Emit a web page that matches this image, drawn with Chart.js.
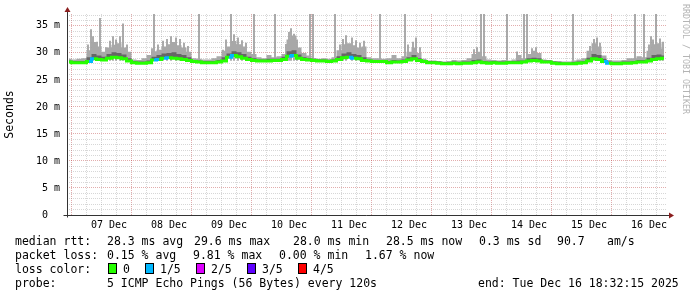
<!DOCTYPE html>
<html>
<head>
<meta charset="utf-8">
<script src="https://cdn.jsdelivr.net/npm/chart.js@4.4.1/dist/chart.umd.min.js"></script>
<style>
  html, body { margin: 0; padding: 0; background: #fff; }
  #wrap { position: relative; width: 697px; height: 297px; overflow: hidden; font-family: 'DejaVu Sans Mono', monospace; }
  #wrap canvas { position: absolute; left: 0; top: 0; }
  .t { position: absolute; font-size: 11.5px; line-height: 14px; white-space: pre; color: #000; }
  .box { position: absolute; top: 263px; width: 7px; height: 9px; border: 1px solid #000; }
  #mark { position: absolute; left: 681px; top: 4px; writing-mode: vertical-rl; font-size: 8.3px; color: #b4b4b4; white-space: pre; }
</style>
</head>
<body>
<div id="wrap">
  <canvas id="c" width="697" height="297"></canvas>

  <div class="t" style="left:15px;top:234px">median rtt:</div>
  <div class="t" style="left:107px;top:234px">28.3 ms avg</div>
  <div class="t" style="left:194px;top:234px">29.6 ms max</div>
  <div class="t" style="left:293px;top:234px">28.0 ms min</div>
  <div class="t" style="left:386px;top:234px">28.5 ms now</div>
  <div class="t" style="left:479px;top:234px">0.3 ms sd</div>
  <div class="t" style="left:557px;top:234px">90.7</div>
  <div class="t" style="left:607px;top:234px">am/s</div>

  <div class="t" style="left:15px;top:248px">packet loss:</div>
  <div class="t" style="left:107px;top:248px">0.15 % avg</div>
  <div class="t" style="left:193px;top:248px">9.81 % max</div>
  <div class="t" style="left:279px;top:248px">0.00 % min</div>
  <div class="t" style="left:365px;top:248px">1.67 % now</div>

  <div class="t" style="left:15px;top:262px">loss color:</div>
  <div class="box" style="left:108px;background:#26ff00"></div>
  <div class="t" style="left:123px;top:262px">0</div>
  <div class="box" style="left:145px;background:#00b8ff"></div>
  <div class="t" style="left:160px;top:262px">1/5</div>
  <div class="box" style="left:196px;background:#dd00ff"></div>
  <div class="t" style="left:211px;top:262px">2/5</div>
  <div class="box" style="left:247px;background:#5e00ff"></div>
  <div class="t" style="left:262px;top:262px">3/5</div>
  <div class="box" style="left:298px;background:#ff0000"></div>
  <div class="t" style="left:313px;top:262px">4/5</div>

  <div class="t" style="left:15px;top:276px">probe:</div>
  <div class="t" style="left:107px;top:276px">5 ICMP Echo Pings (56 Bytes) every 120s</div>
  <div class="t" style="left:478px;top:276px">end: Tue Dec 16 18:32:15 2025</div>

  <div id="mark">RRDTOOL / TOBI OETIKER</div>
</div>

<script>
// time axis in hours since 06 Dec 00:00, one bin every 2 hours
const binStart = 20;
const binStep = 2;
const hourMin = 19.2;
const hourMax = 258.8;

// median rtt per bin (ms)
const medianRtt = [
  28.3, 28.2, 28.2, 28.2, 28.4, 28.9, 28.8, 28.7, 29.0, 29.2,
  29.1, 28.9, 28.5, 28.2, 28.1, 28.1, 28.2, 28.7, 28.8, 29.0,
  29.1, 29.0, 28.9, 28.8, 28.6, 28.4, 28.3, 28.2, 28.2, 28.2,
  28.3, 28.5, 29.2, 29.5, 29.3, 29.0, 28.8, 28.6, 28.5, 28.5,
  28.5, 28.6, 28.6, 28.8, 29.4, 29.5, 29.0, 28.8, 28.7, 28.6,
  28.5, 28.5, 28.4, 28.5, 28.8, 29.1, 29.2, 29.0, 28.9, 28.6,
  28.5, 28.4, 28.4, 28.4, 28.2, 28.3, 28.3, 28.4, 28.7, 28.9,
  28.6, 28.4, 28.2, 28.2, 28.1, 28.0, 28.0, 28.1, 28.0, 28.1,
  28.1, 28.2, 28.3, 28.2, 28.1, 28.2, 28.1, 28.1, 28.2, 28.2,
  28.2, 28.3, 28.5, 28.6, 28.5, 28.3, 28.3, 28.1, 28.0, 28.0,
  28.0, 28.0, 28.1, 28.2, 28.5, 28.9, 28.8, 28.4, 28.1, 28.0,
  28.0, 28.1, 28.1, 28.2, 28.3, 28.3, 28.5, 28.8, 28.9, 29.0
];

// darker inner smoke, upper edge (ms)
const smokeInner = [
  28.6, 28.5, 28.5, 28.5, 29.2, 29.8, 29.5, 29.3, 29.8, 30.1,
  30.0, 29.7, 29.0, 28.5, 28.4, 28.4, 28.6, 29.3, 29.6, 29.9,
  30.0, 30.1, 29.8, 29.6, 29.2, 28.7, 28.6, 28.5, 28.5, 28.5,
  28.7, 29.2, 29.9, 30.3, 30.1, 29.8, 29.3, 29.0, 28.8, 28.8,
  28.9, 28.9, 28.9, 29.3, 30.3, 30.5, 29.7, 29.2, 29.0, 28.9,
  28.8, 28.8, 28.7, 28.8, 29.4, 29.9, 30.1, 29.8, 29.6, 29.2,
  28.8, 28.7, 28.7, 28.7, 28.5, 28.7, 28.6, 28.8, 29.2, 29.6,
  29.0, 28.7, 28.5, 28.5, 28.4, 28.3, 28.3, 28.4, 28.3, 28.4,
  28.4, 28.7, 28.8, 28.5, 28.4, 28.5, 28.4, 28.4, 28.5, 28.5,
  28.6, 28.6, 29.0, 29.1, 29.0, 28.6, 28.6, 28.4, 28.3, 28.2,
  28.2, 28.3, 28.4, 28.5, 29.1, 29.8, 29.6, 28.9, 28.4, 28.3,
  28.3, 28.4, 28.4, 28.5, 28.7, 28.7, 29.1, 29.6, 29.7, 29.5
];

// outer smoke, upper edge (ms)
const smokeTop = [
  28.9, 28.8, 28.9, 29.0, 30.5, 32.0, 31.2, 30.2, 31.0, 31.5,
  31.8, 31.0, 30.2, 28.8, 28.7, 29.0, 29.6, 30.3, 30.6, 31.2,
  31.6, 32.0, 31.4, 31.0, 30.2, 29.0, 28.9, 28.8, 28.8, 29.0,
  29.4, 30.4, 31.2, 32.2, 31.6, 31.2, 30.2, 29.8, 29.2, 29.0,
  29.6, 29.2, 29.4, 29.8, 32.5, 33.2, 31.0, 30.0, 29.5, 29.0,
  28.9, 29.0, 28.9, 29.2, 30.5, 31.6, 31.8, 31.4, 31.0, 31.2,
  29.2, 29.0, 29.0, 28.9, 29.0, 29.6, 29.0, 29.4, 30.2, 31.0,
  30.0, 28.9, 28.6, 28.6, 28.5, 28.4, 28.5, 28.7, 28.6, 28.7,
  29.0, 29.8, 30.2, 29.4, 28.8, 28.7, 28.6, 28.7, 28.6, 28.8,
  29.6, 29.0, 29.8, 30.4, 30.0, 28.8, 28.7, 28.5, 28.5, 28.4,
  28.4, 28.6, 28.8, 29.0, 30.4, 31.8, 31.2, 29.5, 28.7, 28.6,
  28.6, 28.7, 29.0, 29.0, 29.4, 29.2, 30.4, 31.6, 31.8, 30.8
];

// lost pings per bin (out of 5)
const lossBins = [
  0, 0, 0, 0, 1, 0, 0, 0, 0, 0,
  0, 0, 0, 0, 0, 0, 0, 1, 0, 1,
  0, 0, 0, 0, 0, 0, 0, 0, 0, 0,
  0, 0, 1, 0, 0, 0, 0, 0, 0, 0,
  0, 0, 0, 0, 1, 0, 0, 0, 0, 0,
  0, 0, 0, 0, 0, 0, 1, 0, 0, 0,
  0, 0, 0, 0, 0, 0, 0, 0, 0, 0,
  0, 0, 0, 0, 0, 0, 0, 0, 0, 0,
  0, 0, 0, 0, 0, 0, 0, 0, 0, 0,
  0, 0, 0, 0, 0, 0, 0, 0, 0, 0,
  0, 0, 0, 0, 0, 0, 0, 1, 0, 0,
  0, 0, 0, 0, 0, 0, 0, 0, 0, 0
];

// single slow pings: [hour, ms]
const spikes = [
  [27.6, 31.5], [28.8, 34.3], [29.6, 33.0], [31.2, 32.0], [32.4, 36.4],
  [34.8, 31.0], [36.4, 32.2], [37.6, 33.0], [38.8, 32.4], [40.4, 33.0],
  [41.6, 35.4], [43.2, 31.5], [53.2, 30.8], [54.0, 37.2], [55.6, 31.5],
  [57.6, 32.2], [59.2, 32.5], [60.8, 33.0], [62.8, 32.8], [64.4, 32.5],
  [66.0, 31.8], [67.6, 31.2], [72.0, 37.2], [81.6, 30.5], [82.8, 32.4],
  [84.8, 37.2], [86.0, 33.4], [87.6, 32.8], [89.2, 32.3], [90.8, 31.8],
  [94.0, 37.2], [102.4, 37.2], [106.8, 31.6], [108.0, 33.8], [108.8, 34.5],
  [110.0, 33.5], [111.2, 32.4], [116.4, 37.2], [117.6, 37.2], [126.4, 37.2],
  [128.4, 31.5], [129.6, 32.5], [130.8, 33.2], [133.2, 32.8], [134.8, 32.3],
  [136.4, 31.8], [138.0, 32.2], [144.4, 37.2], [154.4, 37.2], [155.6, 31.5],
  [157.6, 32.0], [158.8, 32.8], [160.4, 31.0], [182.0, 30.6], [183.2, 31.0],
  [184.8, 37.2], [186.0, 37.2], [195.2, 37.2], [199.2, 30.2], [202.0, 37.2],
  [203.2, 37.2], [205.2, 30.8], [206.8, 31.0], [221.6, 37.2], [228.4, 31.2],
  [230.0, 32.5], [231.2, 32.8], [232.4, 31.8], [246.4, 37.2], [250.0, 37.2],
  [252.0, 31.5], [252.8, 33.0], [253.6, 32.4], [254.8, 37.2], [256.4, 32.6],
  [257.6, 32.0]
];
const spikeFloor = 28.6;

const dayLabels = ['07 Dec', '08 Dec', '09 Dec', '10 Dec', '11 Dec',
                   '12 Dec', '13 Dec', '14 Dec', '15 Dec', '16 Dec'];
const lossColors = ['#26ff00', '#00b8ff', '#dd00ff', '#5e00ff', '#ff0000'];

const gridMinor = 'rgba(140,140,140,0.35)';
const gridMajor = 'rgba(180,40,40,0.38)';

const toPoints = arr => arr.map((v, i) => ({x: binStart + i * binStep, y: v}));
const tickVal = c => (c && c.tick) ? c.tick.value : NaN;

const axisArrows = {
  id: 'axisArrows',
  afterDatasetsDraw(chart) {
    const {ctx, chartArea: a} = chart;
    const l = Math.round(a.left) + 0.5;
    const b = Math.round(a.bottom) + 0.5;
    ctx.save();
    ctx.strokeStyle = '#333';
    ctx.lineWidth = 1;
    ctx.beginPath();
    ctx.moveTo(l - 4, b);
    ctx.lineTo(a.right + 4, b);
    ctx.moveTo(l, b + 2);
    ctx.lineTo(l, a.top - 3);
    ctx.stroke();
    ctx.fillStyle = '#8b1e1e';
    ctx.beginPath();
    ctx.moveTo(a.right + 8, b);
    ctx.lineTo(a.right + 3, b - 3);
    ctx.lineTo(a.right + 3, b + 3);
    ctx.fill();
    ctx.beginPath();
    ctx.moveTo(l, a.top - 7);
    ctx.lineTo(l - 3, a.top - 2);
    ctx.lineTo(l + 3, a.top - 2);
    ctx.fill();
    ctx.restore();
  }
};

Chart.defaults.font.family = "'DejaVu Sans Mono', monospace";
Chart.defaults.font.size = 10;
Chart.defaults.color = '#000';

new Chart(document.getElementById('c').getContext('2d'), {
  type: 'line',
  data: {
    datasets: [
      {
        label: 'median',
        data: toPoints(medianRtt),
        borderColor: lossColors[0],
        borderWidth: 3,
        stepped: 'middle',
        pointRadius: 0,
        fill: false,
        order: 0,
        segment: {
          borderColor: c => lossColors[lossBins[c.p0DataIndex] || 0]
        }
      },
      {
        label: 'smoke inner',
        data: toPoints(smokeInner),
        borderWidth: 0,
        backgroundColor: '#666666',
        stepped: 'middle',
        pointRadius: 0,
        fill: {target: 0},
        order: 1
      },
      {
        label: 'smoke',
        data: toPoints(smokeTop),
        borderWidth: 0,
        backgroundColor: '#a8a8a8',
        stepped: 'middle',
        pointRadius: 0,
        fill: {target: 0},
        order: 2
      },
      {
        type: 'bar',
        label: 'spikes',
        data: spikes.map(s => ({x: s[0], y: [spikeFloor, s[1]]})),
        backgroundColor: '#9a9a9a',
        barThickness: 1,
        grouped: false,
        order: 3
      }
    ]
  },
  options: {
    responsive: false,
    animation: false,
    events: [],
    layout: {padding: {top: 14, right: 31, bottom: 62, left: 0}},
    plugins: {legend: {display: false}, tooltip: {enabled: false}},
    scales: {
      x: {
        type: 'linear',
        min: hourMin,
        max: hourMax,
        offset: false,
        afterFit: s => { s.height = 20; },
        afterBuildTicks: s => {
          const t = [];
          for (let h = 24; h <= hourMax; h += 6) t.push({value: h});
          s.ticks = t;
        },
        grid: {
          color: c => tickVal(c) % 24 === 0 ? gridMajor : gridMinor,
          drawTicks: false
        },
        border: {display: false, dash: [1, 1]},
        ticks: {
          autoSkip: false,
          maxRotation: 0,
          padding: 4,
          callback: v => v % 24 === 12 ? dayLabels[(v - 36) / 24] : ''
        }
      },
      y: {
        min: 0,
        max: 37.2,
        afterFit: s => { s.width = 67; },
        afterBuildTicks: s => {
          const t = [];
          for (let v = 0; v <= 37; v++) t.push({value: v});
          s.ticks = t;
        },
        grid: {
          color: c => tickVal(c) % 5 === 0 ? gridMajor : gridMinor,
          drawTicks: false
        },
        border: {display: false, dash: [1, 1]},
        ticks: {
          autoSkip: false,
          padding: 7,
          callback: v => v % 5 ? '' : (v === 0 ? '0  ' : v + ' m')
        },
        title: {
          display: true,
          text: 'Seconds',
          font: {size: 11.5},
          padding: {top: 3, bottom: 0}
        }
      }
    }
  },
  plugins: [axisArrows]
});
</script>
</body>
</html>
